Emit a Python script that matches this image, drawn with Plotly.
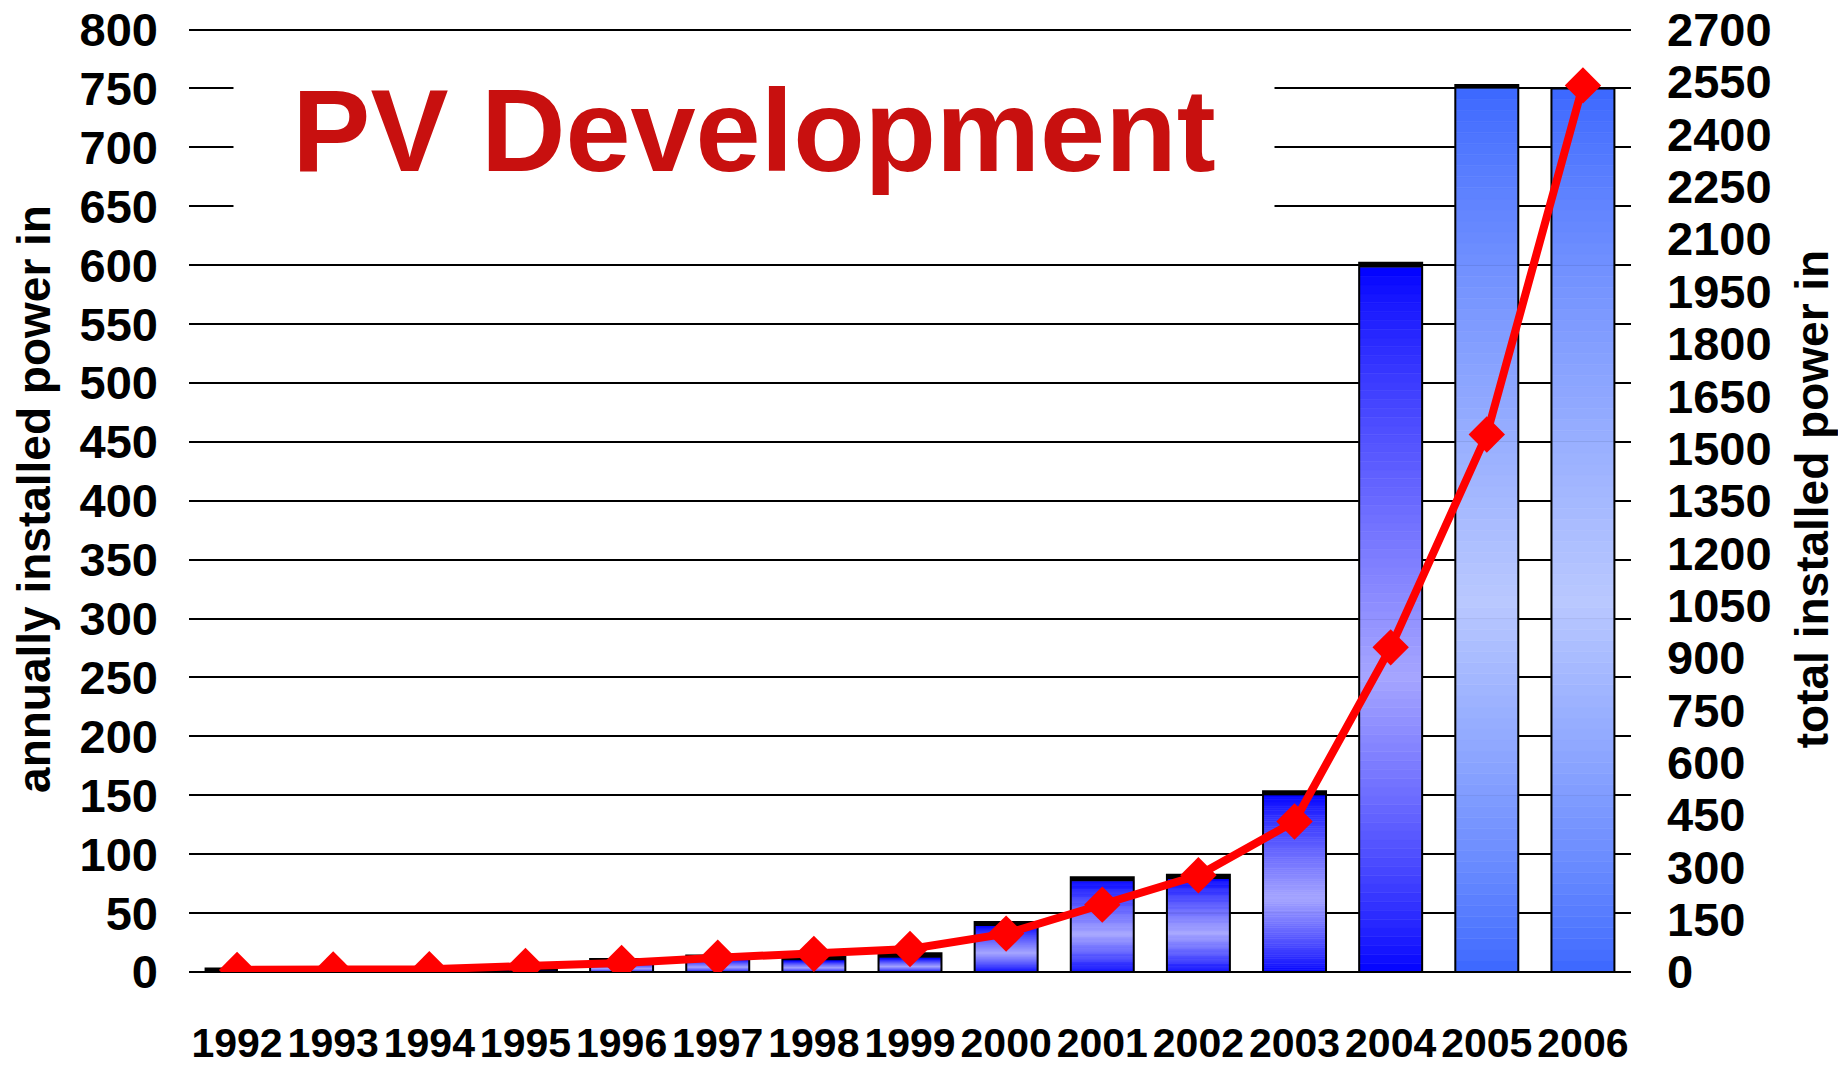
import plotly.graph_objects as go

# ---------------- data ----------------
years = ["1992", "1993", "1994", "1995", "1996", "1997", "1998", "1999",
         "2000", "2001", "2002", "2003", "2004", "2005", "2006"]
# annually installed power (gradient blue part of the bars), left axis
annual_main = [0, 0, 0, 1, 8, 11, 10, 12, 39, 77, 79, 150, 598, 750, 750]
# thin dark top part of the bars, left axis
annual_top = [3, 2, 2, 2, 3, 3, 3, 4, 3.5, 3.5, 3.5, 3.5, 4, 3, 0]
# total installed power, right axis
total_power = [6, 7, 8, 17, 26, 41, 52, 66, 110, 193, 277, 431, 930, 1540, 2540]

left_ticks = list(range(0, 801, 50))
right_ticks = list(range(0, 2701, 150))

# ---------------- styles ----------------
# the page has an 8px body margin, so the figure is a bit smaller than the window
W, H = 1838, 1057
PX_PER_UNIT = 942 / 800
LEFT_TOP = 803                      # left axis range end (keeps the 800 line inside)
RIGHT_TOP = LEFT_TOP * 2700 / 800   # right axis aligned with left axis
ZERO_Y = 964                        # pixel row of the zero line inside the figure
PLOT_H = round(LEFT_TOP * PX_PER_UNIT)
M_L, M_R = 181, 215
M_T = ZERO_Y - PLOT_H
M_B = H - ZERO_Y
N_SEG = 80
TICK_FONT = "Liberation Sans, Arial"
TEXT_FONT = "Liberation Sans, Arial"

dark_a, light_a = (0, 0, 255), (165, 165, 255)
dark_b, light_b = (58, 102, 255), (185, 200, 255)
light_pos = 0.42  # fraction of bar height where the gradient is lightest


def grad_color(i, t):
    dark, light = (dark_b, light_b) if i >= 13 else (dark_a, light_a)
    if t <= light_pos:
        u = t / light_pos
    else:
        u = (1 - t) / (1 - light_pos)
    u = max(0.0, min(1.0, u)) ** 0.8
    c = [round(d + (l - d) * u) for d, l in zip(dark, light)]
    return f"rgb({c[0]},{c[1]},{c[2]})"


fig = go.Figure()

# gradient bars: each bar split into thin slices of its own value
for k in range(N_SEG):
    t = (k + 0.5) / N_SEG
    cols = [grad_color(i, t) for i in range(len(years))]
    fig.add_trace(go.Bar(
        x=years,
        y=[v / N_SEG for v in annual_main],
        base=[v * k / N_SEG for v in annual_main],
        marker=dict(color=cols, line=dict(color=cols, width=0.6)),
        showlegend=False, hoverinfo="skip", yaxis="y",
    ))

# dark top part
fig.add_trace(go.Bar(
    x=years, y=annual_top, base=annual_main,
    marker=dict(color="black", line=dict(width=0)),
    showlegend=False, hoverinfo="skip", yaxis="y",
))

# outline of each bar
fig.add_trace(go.Bar(
    x=years, y=[a + b for a, b in zip(annual_main, annual_top)],
    marker=dict(color="rgba(0,0,0,0)", line=dict(color="black", width=2)),
    showlegend=False, hoverinfo="skip", yaxis="y",
))

# total installed power line
fig.add_trace(go.Scatter(
    x=years, y=total_power, yaxis="y2", mode="lines+markers",
    line=dict(color="#ff0000", width=8),
    marker=dict(symbol="diamond", size=28, color="#ff0000"),
    showlegend=False, hoverinfo="skip",
))

plot_w = W - M_L - M_R
fig.update_layout(
    width=W, height=H,
    margin=dict(l=M_L, r=M_R, t=M_T, b=M_B, autoexpand=False),
    paper_bgcolor="white", plot_bgcolor="white",
    barmode="overlay", bargap=0.345,
    showlegend=False,
    xaxis=dict(
        type="category", range=[-0.5, len(years) - 0.5],
        showgrid=False, showline=False, zeroline=False,
        ticks="", tickangle=0,
        tickfont=dict(family=TICK_FONT, size=41, color="black", weight="bold"),
        ticklabelstandoff=43, automargin=False,
    ),
    yaxis=dict(
        range=[0, LEFT_TOP], tickvals=left_ticks, ticktext=[str(v) for v in left_ticks],
        showgrid=True, gridcolor="black", gridwidth=2,
        zeroline=True, zerolinecolor="black", zerolinewidth=2,
        showline=False, ticks="", ticklabeloverflow="allow",
        tickfont=dict(family=TICK_FONT, size=47, color="black", weight="bold"),
        ticklabelstandoff=30, automargin=False,
        title=dict(text="annually installed power in",
                   font=dict(family=TEXT_FONT, size=46, color="black", weight="bold"),
                   standoff=19),
    ),
    yaxis2=dict(
        range=[0, RIGHT_TOP], tickvals=right_ticks, ticktext=[str(v) for v in right_ticks],
        overlaying="y", side="right", showgrid=False, zeroline=False,
        showline=False, ticks="", ticklabeloverflow="allow",
        tickfont=dict(family=TICK_FONT, size=47, color="black", weight="bold"),
        ticklabelstandoff=35, automargin=False,
        title=dict(text="total installed power in",
                   font=dict(family=TEXT_FONT, size=46, color="black", weight="bold"),
                   standoff=25),
    ),
    annotations=[dict(
        text="PV Development", xref="paper", yref="paper",
        x=(745.5 - M_L) / plot_w, y=(ZERO_Y - 122) / PLOT_H,
        xanchor="center", yanchor="middle",
        showarrow=False, bgcolor="white", width=1040, height=180, borderpad=0,
        font=dict(family=TEXT_FONT, size=117, color="#c8100f", weight="bold"),
    )],
)

fig.write_html("out.html")
